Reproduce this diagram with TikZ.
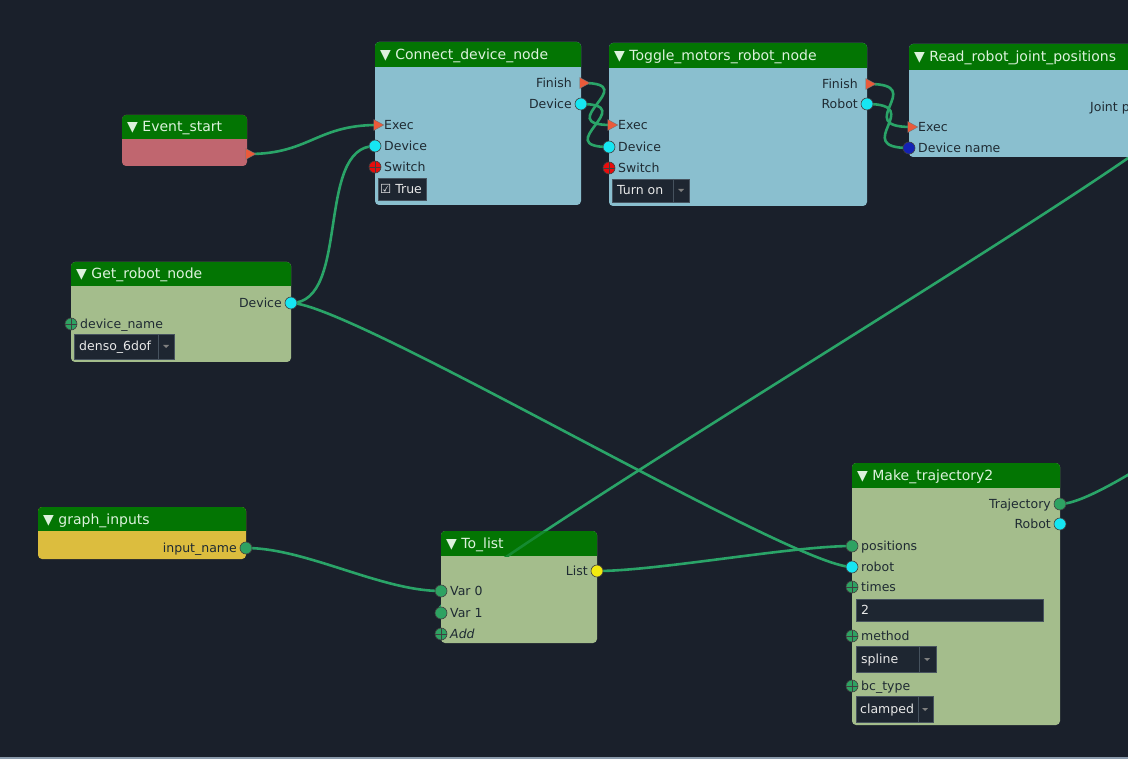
\documentclass[tikz,border=0pt]{standalone}
\usepackage{fontspec}
\setmainfont{DejaVu Sans}
\usetikzlibrary{shapes.geometric}

\definecolor{canvas}{HTML}{1A202B}
\definecolor{hdrgreen}{HTML}{037503}
\definecolor{wiregreen}{HTML}{2AA468}
\definecolor{skyblue}{HTML}{8ABFCF}
\definecolor{sage}{HTML}{A4BD8C}
\definecolor{rose}{HTML}{C0666F}
\definecolor{mustard}{HTML}{DCBD3E}
\definecolor{execred}{HTML}{EA5A3A}
\definecolor{portcyan}{HTML}{16E6F2}
\definecolor{portgreen}{HTML}{2EA262}
\definecolor{portred}{HTML}{E80C0C}
\definecolor{portyellow}{HTML}{F2EA10}
\definecolor{portblue}{HTML}{1422B4}
\definecolor{widget}{HTML}{1E2631}
\definecolor{widgetedge}{HTML}{46525E}
\definecolor{labelink}{HTML}{1F2B33}
\definecolor{titleink}{HTML}{DDF2DD}
\definecolor{strip}{HTML}{8A9AAB}

\pgfdeclarelayer{wires}
\pgfsetlayers{wires,main}

\begin{document}
\begin{tikzpicture}[x=1pt,y=-1pt,
  title/.style={anchor=base west,yshift=-5,inner sep=0,text=titleink,font=\fontsize{14}{16}\selectfont},
  inlbl/.style={anchor=base west,yshift=-4.5,inner sep=0,text=labelink,font=\fontsize{12.5}{14}\selectfont},
  outlbl/.style={anchor=base east,yshift=-4.5,inner sep=0,text=labelink,font=\fontsize{12.5}{14}\selectfont},
  wtext/.style={anchor=base west,yshift=-4.5,inner sep=0,text=white!82!gray,font=\fontsize{12.5}{14}\selectfont},
  port/.style={circle,draw=black!75,line width=0.6,inner sep=0,minimum size=12},
  optport/.style={port,path picture={\draw[black!75,line width=0.8]
    (path picture bounding box.north) -- (path picture bounding box.south)
    (path picture bounding box.west) -- (path picture bounding box.east);}},
  execport/.style={isosceles triangle,isosceles triangle stretches,fill=execred,draw=black!55,
    line width=0.4,inner sep=0,minimum width=11,minimum height=10},
  wire/.style={wiregreen,line width=2.6},
  widgetbox/.style={fill=widget,draw=widgetedge,line width=0.6}]

\useasboundingbox (0,0) rectangle (1128,759);
\fill[strip] (0,757) rectangle (1128,759);

% Event_start
\fill[rose,rounded corners=4] (122,115) rectangle (247,166);
\fill[hdrgreen,rounded corners=4] (122,115) rectangle (247,144);
\fill[rose] (122,139) rectangle (247,145);
\node[title] (es-title) at (127,127) {▼ Event\_start};
\node[execport] (es-out) at (249,154) {};

% Connect_device_node
\fill[skyblue,rounded corners=4] (375,42) rectangle (581,205);
\fill[hdrgreen,rounded corners=4] (375,42) rectangle (581,72);
\fill[skyblue] (375,67) rectangle (581,73);
\node[title] (cd-title) at (380,54.5) {▼ Connect\_device\_node};
\node[execport] (cd-fin) at (583,83) {};
\node[outlbl] (cd-fin-l) at (572,83) {Finish};
\node[port,fill=portcyan] (cd-dev) at (581,104) {};
\node[outlbl] (cd-dev-l) at (572,104) {Device};
\node[execport] (cd-exec) at (377,125) {};
\node[inlbl] (cd-exec-l) at (384,125) {Exec};
\node[port,fill=portcyan] (cd-devin) at (375,146) {};
\node[inlbl] (cd-devin-l) at (384,146) {Device};
\node[optport,fill=portred] (cd-sw) at (375,167) {};
\node[inlbl] (cd-sw-l) at (384,167) {Switch};
\draw[widgetbox] (378,178) rectangle (426,200);
\node[wtext] (cd-check) at (380,189) {☑ True};

% Toggle_motors_robot_node
\fill[skyblue,rounded corners=4] (609,43) rectangle (867,206);
\fill[hdrgreen,rounded corners=4] (609,43) rectangle (867,73);
\fill[skyblue] (609,68) rectangle (867,74);
\node[title] (tm-title) at (614,55.5) {▼ Toggle\_motors\_robot\_node};
\node[execport] (tm-fin) at (869,84) {};
\node[outlbl] (tm-fin-l) at (858,84) {Finish};
\node[port,fill=portcyan] (tm-rob) at (867,104) {};
\node[outlbl] (tm-rob-l) at (858,104) {Robot};
\node[execport] (tm-exec) at (611,125) {};
\node[inlbl] (tm-exec-l) at (618,125) {Exec};
\node[port,fill=portcyan] (tm-dev) at (609,147) {};
\node[inlbl] (tm-dev-l) at (618,147) {Device};
\node[optport,fill=portred] (tm-sw) at (609,168) {};
\node[inlbl] (tm-sw-l) at (618,168) {Switch};
\draw[widgetbox] (612,179) rectangle (689,202);
\draw[widgetedge,line width=0.8] (673,179) -- (673,202);
\fill[gray] (678,189) -- (684,189) -- (681,192) -- cycle;
\node[wtext] (tm-mode) at (617,190.5) {Turn on};

% Read_robot_joint_positions
\fill[skyblue,rounded corners=4] (909,44) rectangle (1240,157);
\fill[hdrgreen,rounded corners=4] (909,44) rectangle (1240,75);
\fill[skyblue] (909,70) rectangle (1240,76);
\node[title] (rj-title) at (914,57) {▼ Read\_robot\_joint\_positions};
\node[outlbl] (rj-out-l) at (1178,107) {Joint positions};
\coordinate (rj-out) at (1186,107);
\node[execport] (rj-exec) at (911,127) {};
\node[inlbl] (rj-exec-l) at (918,127) {Exec};
\node[port,fill=portblue] (rj-dev) at (909,148) {};
\node[inlbl] (rj-dev-l) at (918,148) {Device name};

% Get_robot_node
\fill[sage,rounded corners=4] (71,262) rectangle (291,362);
\fill[hdrgreen,rounded corners=4] (71,262) rectangle (291,291);
\fill[sage] (71,286) rectangle (291,292);
\node[title] (gr-title) at (76,274) {▼ Get\_robot\_node};
\node[port,fill=portcyan] (gr-dev) at (291,303) {};
\node[outlbl] (gr-dev-l) at (282,303) {Device};
\node[optport,fill=portgreen] (gr-name) at (71,324) {};
\node[inlbl] (gr-name-l) at (80,324) {device\_name};
\draw[widgetbox] (74,334) rectangle (174,359);
\draw[widgetedge,line width=0.8] (158,334) -- (158,359);
\fill[gray] (163,345) -- (169,345) -- (166,348) -- cycle;
\node[wtext] (gr-choice) at (79,346.5) {denso\_6dof};

% graph_inputs
\fill[mustard,rounded corners=4] (38,507) rectangle (246,559);
\fill[hdrgreen,rounded corners=4] (38,507) rectangle (246,536);
\fill[mustard] (38,531) rectangle (246,537);
\node[title] (gi-title) at (43,519) {▼ graph\_inputs};
\node[port,fill=portgreen] (gi-out) at (246,548) {};
\node[outlbl] (gi-out-l) at (237,548) {input\_name};

% To_list
\fill[sage,rounded corners=4] (441,531) rectangle (597,643);
\fill[hdrgreen,rounded corners=4] (441,531) rectangle (597,561);
\fill[sage] (441,556) rectangle (597,562);
\node[title] (tl-title) at (446,543.5) {▼ To\_list};
\node[port,fill=portyellow] (tl-list) at (597,571) {};
\node[outlbl] (tl-list-l) at (588,571) {List};
\node[port,fill=portgreen] (tl-v0) at (441,591) {};
\node[inlbl] (tl-v0-l) at (450,591) {Var 0};
\node[port,fill=portgreen] (tl-v1) at (441,613) {};
\node[inlbl] (tl-v1-l) at (450,613) {Var 1};
\node[optport,fill=portgreen] (tl-add) at (441,634) {};
\node[inlbl] (tl-add-l) at (450,634) {\itshape Add};

% Make_trajectory2
\fill[sage,rounded corners=4] (852,463) rectangle (1060,725);
\fill[hdrgreen,rounded corners=4] (852,463) rectangle (1060,493);
\fill[sage] (852,488) rectangle (1060,494);
\node[title] (mt-title) at (857,475.5) {▼ Make\_trajectory2};
\node[port,fill=portgreen] (mt-traj) at (1060,504) {};
\node[outlbl] (mt-traj-l) at (1051,504) {Trajectory};
\node[port,fill=portcyan] (mt-rob) at (1060,524) {};
\node[outlbl] (mt-rob-l) at (1051,524) {Robot};
\node[port,fill=portgreen] (mt-pos) at (852,546) {};
\node[inlbl] (mt-pos-l) at (861,546) {positions};
\node[port,fill=portcyan] (mt-robin) at (852,567) {};
\node[inlbl] (mt-robin-l) at (861,567) {robot};
\node[optport,fill=portgreen] (mt-times) at (852,587) {};
\node[inlbl] (mt-times-l) at (861,587) {times};
\draw[widgetbox] (856,599) rectangle (1043,621);
\node[wtext] (mt-times-v) at (861,610) {2};
\node[optport,fill=portgreen] (mt-meth) at (852,636) {};
\node[inlbl] (mt-meth-l) at (861,636) {method};
\draw[widgetbox] (856,646) rectangle (936,672);
\draw[widgetedge,line width=0.8] (919,646) -- (919,672);
\fill[gray] (924,658) -- (930,658) -- (927,661) -- cycle;
\node[wtext] (mt-meth-v) at (861,659) {spline};
\node[optport,fill=portgreen] (mt-bc) at (852,686) {};
\node[inlbl] (mt-bc-l) at (861,686) {bc\_type};
\draw[widgetbox] (856,696) rectangle (933,722);
\draw[widgetedge,line width=0.8] (918,696) -- (918,722);
\fill[gray] (922,708) -- (928,708) -- (925,711) -- cycle;
\node[wtext] (mt-bc-v) at (860,709) {clamped};
\coordinate (traj-end) at (1450,280);

% the joint wire shows faintly through the To_list header
\begin{scope}
\clip (441,531) rectangle (597,556);
\draw[wire,draw=wiregreen!45!hdrgreen] (rj-out) .. controls +(60,0) and +(-60,0) .. (tl-v1.center);
\end{scope}

% canvas and connections, under the nodes
\begin{pgfonlayer}{wires}
\fill[canvas] (0,0) rectangle (1128,757);
\draw[wire] (es-out.center) .. controls +(60,0) and +(-60,0) .. (cd-exec.center);
\draw[wire] (gr-dev.center) .. controls +(60,0) and +(-60,0) .. (cd-devin.center);
\draw[wire] (cd-fin.center) .. controls +(60,0) and +(-60,0) .. (tm-exec.center);
\draw[wire] (cd-dev.center) .. controls +(60,0) and +(-60,0) .. (tm-dev.center);
\draw[wire] (tm-fin.center) .. controls +(60,0) and +(-60,0) .. (rj-exec.center);
\draw[wire] (tm-rob.center) .. controls +(60,0) and +(-60,0) .. (rj-dev.center);
\draw[wire] (gr-dev.center) .. controls +(60,0) and +(-60,0) .. (mt-robin.center);
\draw[wire] (gi-out.center) .. controls +(60,0) and +(-60,0) .. (tl-v0.center);
\draw[wire] (tl-list.center) .. controls +(60,0) and +(-60,0) .. (mt-pos.center);
\draw[wire] (rj-out) .. controls +(60,0) and +(-60,0) .. (tl-v1.center);
\draw[wire] (mt-traj.center) .. controls +(60,0) and +(-60,0) .. (traj-end);
\end{pgfonlayer}
\end{tikzpicture}
\end{document}
